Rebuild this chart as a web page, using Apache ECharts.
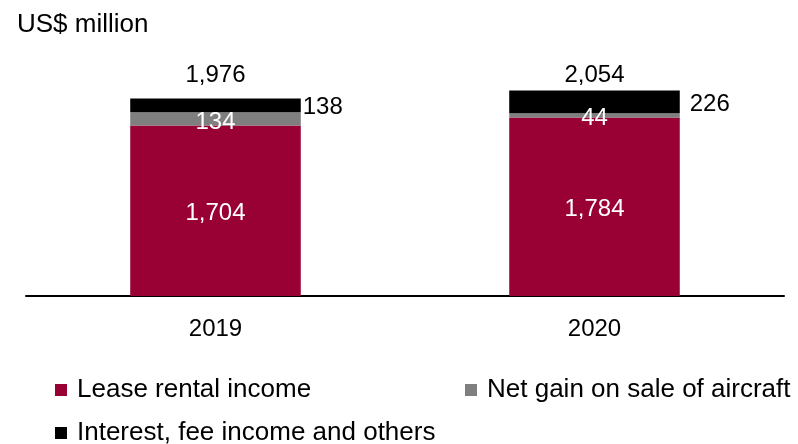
<!DOCTYPE html>
<html>
<head>
<meta charset="utf-8">
<script src="https://cdn.jsdelivr.net/npm/echarts@6/dist/echarts.min.js"></script>
<style>
  html, body { margin: 0; padding: 0; background: #fff; }
  #chart { width: 798px; height: 444px; }
</style>
</head>
<body>
<div id="chart"></div>
<script>
// Revenue breakdown, US$ million
const years = ['2019', '2020'];
const leaseRental = [1704, 1784];
const netGainSale = [134, 44];
const interestFee = [138, 226];
const seriesNames = ['Lease rental income', 'Net gain on sale of aircraft', 'Interest, fee income and others'];

const totals = years.map((_, i) => leaseRental[i] + netGainSale[i] + interestFee[i]);

const FONT = '"Liberation Sans", Arial, sans-serif';
const fmt = v => v.toLocaleString('en-US');

// per-year label offsets (pixels)
const sideLabelGap = [2, 10];
const totalLabelGap = [11, 3];

const chart = echarts.init(document.getElementById('chart'), null, { renderer: 'canvas' });

chart.setOption({
  animation: false,
  title: {
    text: 'US$ million',
    left: 12,
    top: 7,
    textStyle: { fontFamily: FONT, fontSize: 26, fontWeight: 'normal', color: '#000' }
  },
  legend: [
    { data: [seriesNames[0]], left: 55, top: 377 },
    { data: [seriesNames[1]], left: 465, top: 377 },
    { data: [seriesNames[2]], left: 55, top: 420 }
  ].map(l => Object.assign(l, {
    icon: 'rect', itemWidth: 12, itemHeight: 12, itemGap: 0, padding: 0,
    textStyle: { fontFamily: FONT, fontSize: 26, color: '#000', padding: [0, 0, 0, 5] }
  })),
  grid: { left: 26, right: 14, top: 46, bottom: 148 },
  xAxis: {
    type: 'category',
    data: years,
    axisLine: { lineStyle: { color: '#000', width: 2 } },
    axisTick: { show: false },
    axisLabel: { fontFamily: FONT, fontSize: 24, color: '#000', margin: 21 }
  },
  yAxis: {
    type: 'value', min: 0, max: 2500,
    show: false, splitLine: { show: false }
  },
  series: [
    {
      name: seriesNames[0], type: 'bar', stack: 'rev', barWidth: '45%',
      itemStyle: { color: '#990033' },
      label: { show: true, position: 'inside', offset: [0, 3], color: '#fff', fontFamily: FONT, fontSize: 24, formatter: p => fmt(p.value) },
      data: leaseRental
    },
    {
      name: seriesNames[1], type: 'bar', stack: 'rev',
      itemStyle: { color: '#7f7f7f' },
      label: { show: true, position: 'inside', offset: [0, 3], color: '#fff', fontFamily: FONT, fontSize: 24, formatter: p => fmt(p.value) },
      data: netGainSale
    },
    {
      name: seriesNames[2], type: 'bar', stack: 'rev',
      itemStyle: { color: '#000' },
      label: { show: true, position: 'right', offset: [0, 2], color: '#000', fontFamily: FONT, fontSize: 24, formatter: p => fmt(p.value) },
      data: interestFee.map((v, i) => ({ value: v, label: { distance: sideLabelGap[i] } }))
    },
    {
      name: 'Total', type: 'scatter', symbolSize: 0, silent: true,
      itemStyle: { opacity: 1 },
      label: { show: true, position: 'top', color: '#000', fontFamily: FONT, fontSize: 24, formatter: p => fmt(p.value[1]) },
      data: totals.map((v, i) => ({ value: [years[i], v], label: { distance: totalLabelGap[i] } }))
    }
  ]
});
</script>
</body>
</html>
